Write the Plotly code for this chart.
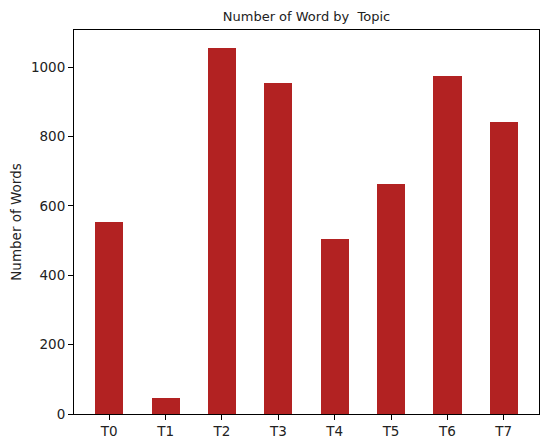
import plotly.graph_objects as go

topics = ['T0', 'T1', 'T2', 'T3', 'T4', 'T5', 'T6', 'T7']
word_counts = [553, 47, 1054, 953, 504, 662, 975, 843]
y_ticks = [0, 200, 400, 600, 800, 1000]

fig = go.Figure()

fig.add_trace(
    go.Bar(
        x=topics,
        y=word_counts,
        width=0.5,
        marker=dict(color='#b22222', line=dict(width=0)),
        showlegend=False,
    )
)

axis_style = dict(
    showline=True,
    linecolor='black',
    linewidth=1,
    mirror=True,
    ticks='outside',
    ticklen=5,
    tickwidth=1,
    tickcolor='black',
    showgrid=False,
    zeroline=False,
    automargin=False,
    tickfont=dict(family='DejaVu Sans', size=13.5, color='#222222'),
)

fig.update_layout(
    width=549,
    height=448,
    paper_bgcolor='white',
    plot_bgcolor='white',
    margin=dict(l=74, r=10, t=30, b=34, autoexpand=False),
    font=dict(family='DejaVu Sans', size=13.5, color='#222222'),
    title=dict(
        text='Number of Word by  Topic',
        x=(74 + 539) / 2 / 549,
        xanchor='center',
        y=1 - 16 / 448,
        yanchor='middle',
        font=dict(family='DejaVu Sans', size=13, color='#222222'),
    ),
    bargap=0,
)

fig.update_xaxes(axis_style, range=[-0.625, 7.625])
fig.update_yaxes(
    axis_style,
    range=[0, max(word_counts) * 1.05],
    tickvals=y_ticks,
    title=dict(text='Number of Words', font=dict(size=13.5), standoff=6),
)

# the page body has a default margin; drop it so the figure sits at 0,0
fig.write_html(
    "out.html",
    config={'displayModeBar': False},
    post_script="document.body.style.margin='0';",
)
